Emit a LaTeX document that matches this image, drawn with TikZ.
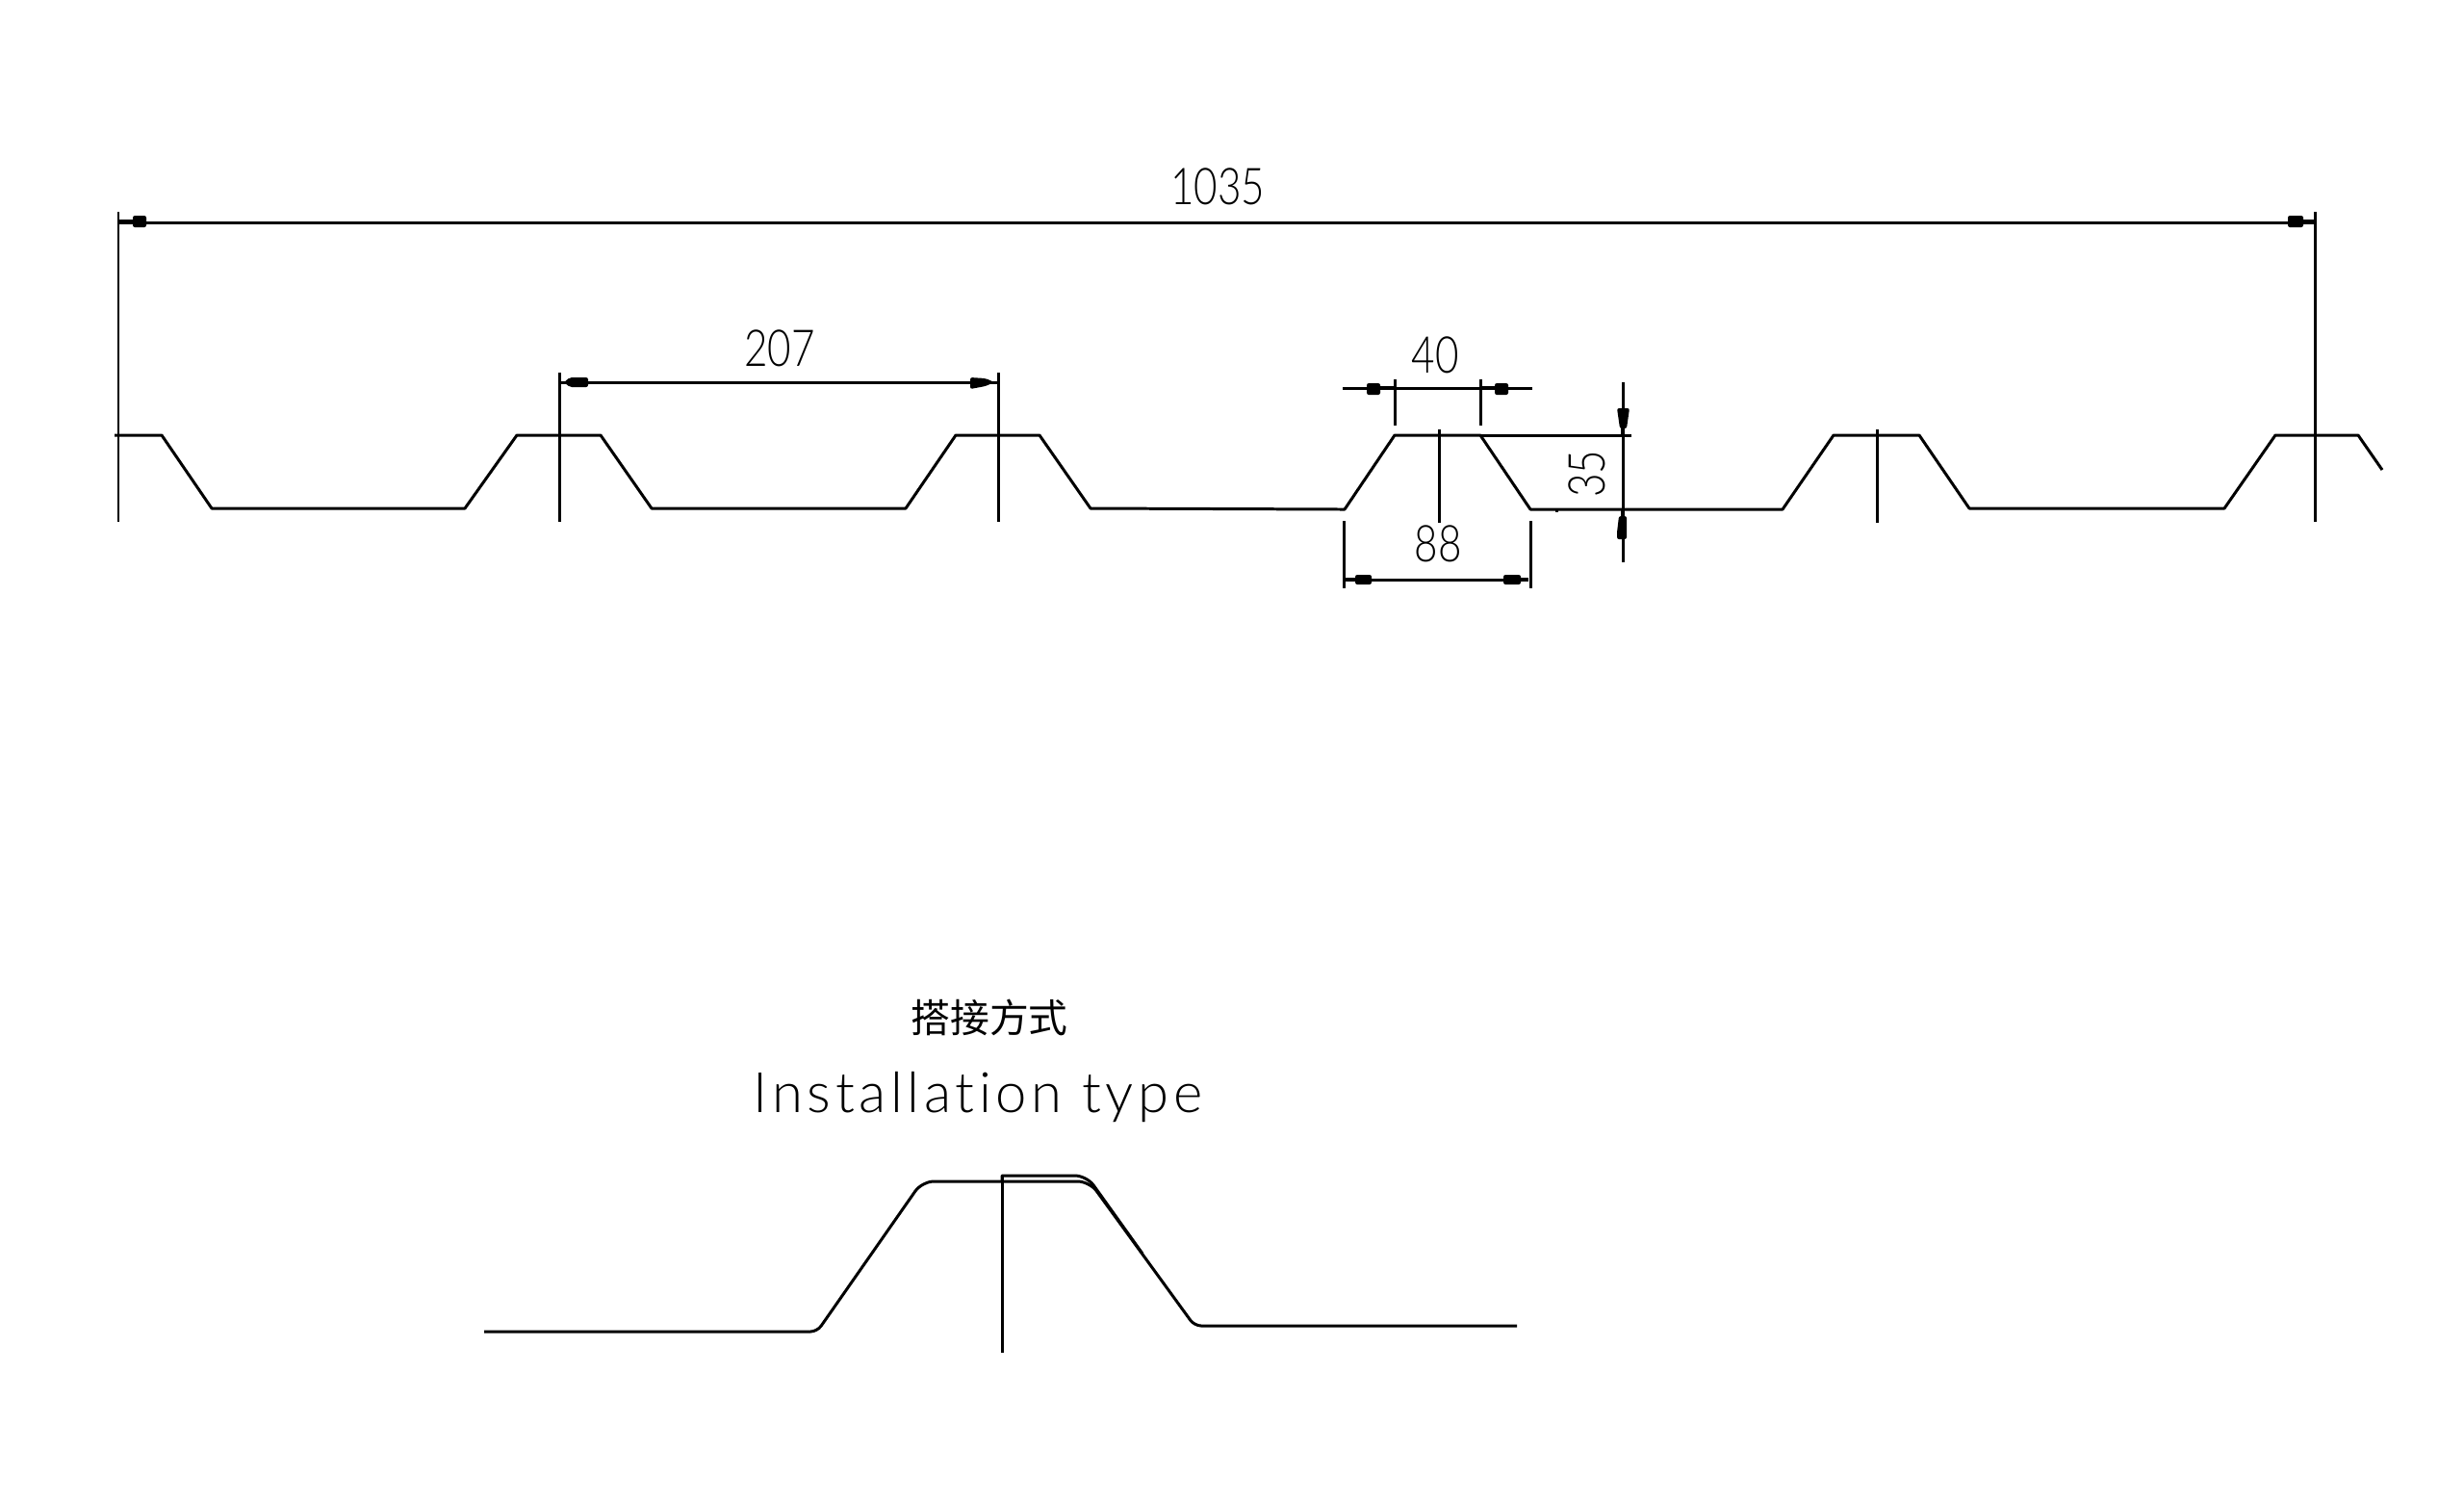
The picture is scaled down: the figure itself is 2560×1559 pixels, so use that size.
\documentclass[tikz,border=0pt]{standalone}
\usepackage{fontspec}
\setmainfont{Lato Light}
\newfontfamily\cjkfont{Noto Sans CJK SC}
\newfontfamily\spacedfont{Lato Light}[LetterSpace=8,Ligatures=NoCommon]
\usepackage{tikz}
\tikzstyle{profile}=[draw=black,line width=.85pt,line join=round]
\tikzstyle{dimline}=[draw=black,line width=.85pt]
\tikzstyle{tail}=[draw=black,line width=1.4pt]
\tikzstyle{block}=[fill=black,rounded corners=.6pt]
\tikzstyle{dimtext}=[font=\fontsize{15}{15}\selectfont,inner sep=0pt,xscale=.8]

\begin{document}
\begin{tikzpicture}[x=0.01cm,y=-0.01cm]
\useasboundingbox ( 0 , 0 ) rectangle ( 2560 , 1559 );
\draw[profile] ( 119 , 452 )--( 168 , 452 )--( 220 , 528 )--( 483 , 528 )--( 537 , 452 )--( 624 , 452 )--( 677 , 528 )--( 941 , 528 )--( 993 , 452 )--( 1080 , 452 )--( 1133 , 528 )--( 1397 , 529 )--( 1449 , 452 )--( 1538 , 452 )--( 1590 , 529 )--( 1852 , 529 )--( 1905 , 452 )--( 1994 , 452 )--( 2046 , 528 )--( 2311 , 528 )--( 2364 , 452 )--( 2450 , 452 )--( 2475 , 488 );
\draw[profile] ( 1538 , 452 )--( 1695 , 452 );
\draw[profile] ( 1617 , 529 )--( 1617 , 532 );
\draw[dimline] ( 123 , 220 )--( 123 , 542 );
\draw[dimline] ( 581 , 387 )--( 581 , 542 );
\draw[dimline] ( 1037 , 387 )--( 1037 , 542 );
\draw[dimline] ( 1495 , 446 )--( 1495 , 543 );
\draw[dimline] ( 1950 , 446 )--( 1950 , 543 );
\draw[dimline] ( 2405 , 220 )--( 2405 , 542 );
\draw[profile] ( 123 , 231 )--( 2405 , 231 );
\draw[tail] ( 123 , 230 )--( 140 , 230 );
\draw[tail] ( 2385 , 230 )--( 2405 , 230 );
\fill[block] ( 138 , 224 ) rectangle ( 152 , 236 );
\fill[block] ( 2377 , 224 ) rectangle ( 2393 , 236 );
\node[dimtext] (total) at ( 1265 , 194 ){1035};
\draw[dimline] ( 581 , 397 )--( 1037 , 397 );
\fill[block] ( 586 , 397 )--( 592 , 392 )--( 611 , 392 )--( 611 , 402 )--( 592 , 402 )--cycle;
\fill[block] ( 1033 , 397 )--( 1024 , 393 )--( 1008 , 392 )--( 1008 , 404 )--( 1024 , 401 )--cycle;
\node[dimtext] (pitch) at ( 810 , 362 ){207};
\draw[dimline] ( 1395 , 403 )--( 1592 , 403 );
\draw[dimline] ( 1449 , 394 )--( 1449 , 442 );
\draw[dimline] ( 1538 , 394 )--( 1538 , 442 );
\draw[tail] ( 1430 , 403 )--( 1449 , 403 );
\draw[tail] ( 1538 , 403 )--( 1556 , 403 );
\fill[block] ( 1420 , 398 ) rectangle ( 1434 , 410 );
\fill[block] ( 1553 , 398 ) rectangle ( 1567 , 410 );
\node[dimtext] (crest) at ( 1491 , 369 ){40};
\draw[dimline] ( 1396 , 541 )--( 1396 , 611 );
\draw[dimline] ( 1590 , 541 )--( 1590 , 611 );
\draw[dimline] ( 1398 , 602 )--( 1588 , 602 );
\draw[tail] ( 1398 , 602 )--( 1412 , 602 );
\draw[tail] ( 1574 , 602 )--( 1588 , 602 );
\fill[block] ( 1408 , 597 ) rectangle ( 1425 , 607 );
\fill[block] ( 1562 , 597 ) rectangle ( 1580 , 607 );
\node[dimtext] (base) at ( 1494 , 565 ){88};
\draw[dimline] ( 1686 , 397 )--( 1686 , 584 );
\draw[tail] ( 1686 , 440 )--( 1686 , 452 );
\draw[tail] ( 1686 , 529 )--( 1686 , 540 );
\fill[block] ( 1680 , 424 )--( 1693 , 424 )--( 1690 , 445 )--( 1683 , 445 )--cycle;
\fill[block] ( 1682 , 536 )--( 1690 , 536 )--( 1690 , 560 )--( 1680 , 560 )--( 1680 , 553 )--cycle;
\node[rotate=90,dimtext] (depth) at ( 1649 , 492 ){35};
\node[font=\cjkfont\fontsize{11.6}{12}\selectfont,inner sep=0pt] (title) at ( 1028 , 1057 ){搭接方式};
\node[font=\spacedfont\fontsize{16.5}{17}\selectfont,inner sep=0pt,anchor=base] (subtitle) at ( 1016 , 1155 ){Installation type};
\draw[profile,rounded corners=2pt] ( 503 , 1383 )--( 849 , 1383 )[rounded corners=3.5pt]--( 958 , 1227 )--( 1132 , 1227 )[rounded corners=2pt]--( 1241 , 1377 )--( 1576 , 1377 );
\draw[profile] ( 1041 , 1227 )--( 1041 , 1221 )[rounded corners=3.5pt]--( 1129 , 1221 )--( 1187 , 1302 );
\draw[dimline] ( 1041 , 1221 )--( 1041 , 1405 );
\end{tikzpicture}
\end{document}
